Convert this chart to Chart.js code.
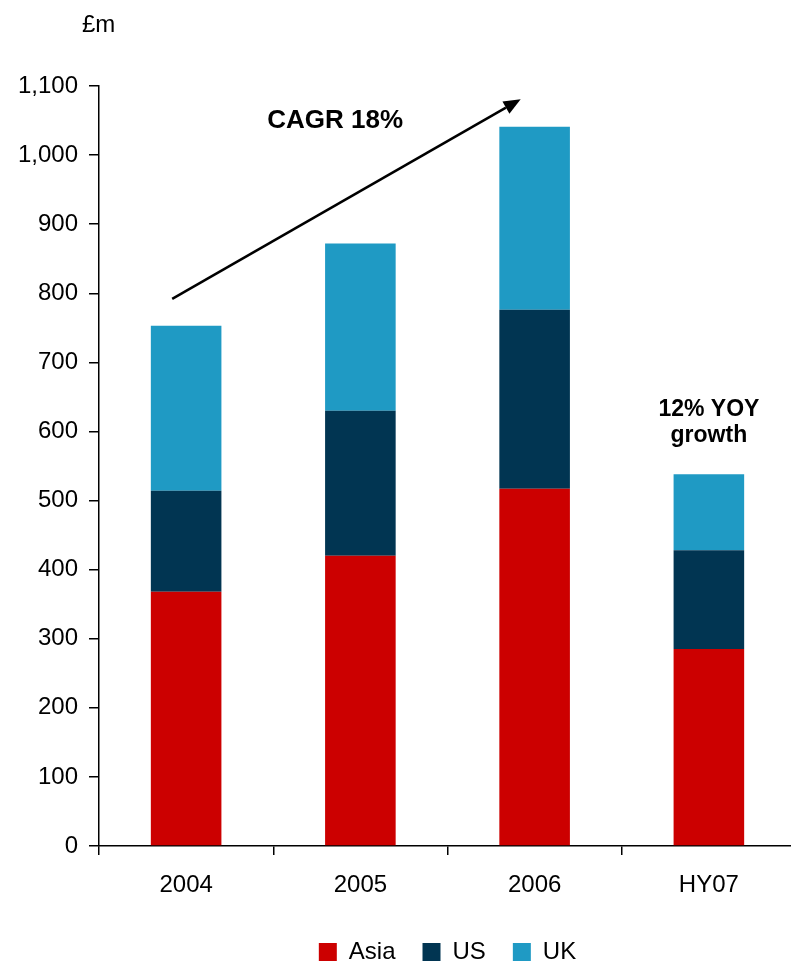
<!DOCTYPE html>
<html>
<head>
<meta charset="utf-8">
<script src="https://cdn.jsdelivr.net/npm/chart.js@4.4.1/dist/chart.umd.min.js"></script>
<style>
  html, body { margin: 0; padding: 0; background: #fff; overflow: hidden; }
  #wrap { width: 791px; height: 965px; overflow: hidden; }
  #box { width: 796px; height: 965px; position: relative; }
</style>
</head>
<body>
<div id="wrap"><div id="box"><canvas id="chart"></canvas></div></div>
<script>
// Data (£m)
const categories = ['2004', '2005', '2006', 'HY07'];
const asia = [368, 420, 517, 285];
const us = [146, 210, 259, 143];
const uk = [239, 242, 265, 110];

const yTicks = [0, 100, 200, 300, 400, 500, 600, 700, 800, 900, 1000, 1100];

// annotations in data units: [category index, value]
const arrowFrom = [-0.08, 792];
const arrowTo = [1.92, 1081];
const cagrLabel = { text: 'CAGR 18%', at: [0.855, 1049] };
const yoyLabel = { lines: ['12% YOY', 'growth'], at: [3, 632], step: 38 };

const FONT = "'Liberation Sans', Arial, sans-serif";

const annotations = {
    id: 'annotations',
    afterDraw(chart) {
        const ctx = chart.ctx;
        const x = chart.scales.x;
        const y = chart.scales.y;
        ctx.save();

        // unit label above the axis
        ctx.fillStyle = '#000';
        ctx.font = '24px ' + FONT;
        ctx.textAlign = 'left';
        ctx.textBaseline = 'middle';
        ctx.fillText('£m', y.right - 17, chart.chartArea.top - 61);

        // growth arrow
        const x1 = x.getPixelForValue(arrowFrom[0]);
        const y1 = y.getPixelForValue(arrowFrom[1]);
        const x2 = x.getPixelForValue(arrowTo[0]);
        const y2 = y.getPixelForValue(arrowTo[1]);
        const ang = Math.atan2(y2 - y1, x2 - x1);
        const head = 17, half = 7;
        const bx = x2 - head * Math.cos(ang);
        const by = y2 - head * Math.sin(ang);
        ctx.strokeStyle = '#000';
        ctx.lineWidth = 2.5;
        ctx.beginPath();
        ctx.moveTo(x1, y1);
        ctx.lineTo(bx, by);
        ctx.stroke();
        ctx.beginPath();
        ctx.moveTo(x2, y2);
        ctx.lineTo(bx + half * Math.sin(ang), by - half * Math.cos(ang));
        ctx.lineTo(bx - half * Math.sin(ang), by + half * Math.cos(ang));
        ctx.closePath();
        ctx.fill();

        // text labels
        ctx.textAlign = 'center';
        ctx.font = 'bold 26px ' + FONT;
        ctx.fillText(cagrLabel.text, x.getPixelForValue(cagrLabel.at[0]), y.getPixelForValue(cagrLabel.at[1]));

        ctx.font = 'bold 23px ' + FONT;
        yoyLabel.lines.forEach((line, i) => {
            ctx.fillText(line, x.getPixelForValue(yoyLabel.at[0]), y.getPixelForValue(yoyLabel.at[1] - i * yoyLabel.step));
        });
        ctx.restore();
    }
};

const ctx = document.getElementById('chart').getContext('2d');
new Chart(ctx, {
    type: 'bar',
    data: {
        labels: categories,
        datasets: [
            { label: 'Asia', data: asia, backgroundColor: '#CC0000' },
            { label: 'US', data: us, backgroundColor: '#013552' },
            { label: 'UK', data: uk, backgroundColor: '#1F9AC4' }
        ]
    },
    options: {
        responsive: true,
        maintainAspectRatio: false,
        animation: false,
        layout: { padding: { top: 86, left: 0, right: 0, bottom: -9 } },
        datasets: {
            bar: { categoryPercentage: 1, barPercentage: 0.405, borderWidth: 0 }
        },
        scales: {
            x: {
                stacked: true,
                grid: {
                    offset: true,
                    drawOnChartArea: false,
                    drawTicks: true,
                    tickLength: 9,
                    color: '#000',
                    lineWidth: 1.5
                },
                border: { display: true, color: '#000', width: 1.5 },
                ticks: { color: '#000', font: { family: FONT, size: 24 }, padding: 16 },
                afterFit(scale) { scale.height = 67; }
            },
            y: {
                stacked: true,
                min: 0,
                max: 1100,
                afterBuildTicks(scale) { scale.ticks = yTicks.map(v => ({ value: v })); },
                grid: {
                    drawOnChartArea: false,
                    drawTicks: true,
                    tickLength: 10,
                    color: '#000',
                    lineWidth: 1.5
                },
                border: { display: true, color: '#000', width: 1.5 },
                ticks: {
                    color: '#000',
                    font: { family: FONT, size: 24 },
                    padding: 11,
                    callback: (v) => v.toLocaleString('en-US')
                },
                afterFit(scale) { scale.width = 99; }
            }
        },
        plugins: {
            legend: {
                position: 'bottom',
                fullSize: false,
                labels: {
                    boxWidth: 18,
                    boxHeight: 18,
                    padding: 27,
                    color: '#000',
                    font: { family: FONT, size: 24 }
                }
            },
            tooltip: { enabled: false }
        }
    },
    plugins: [annotations]
});
</script>
</body>
</html>
